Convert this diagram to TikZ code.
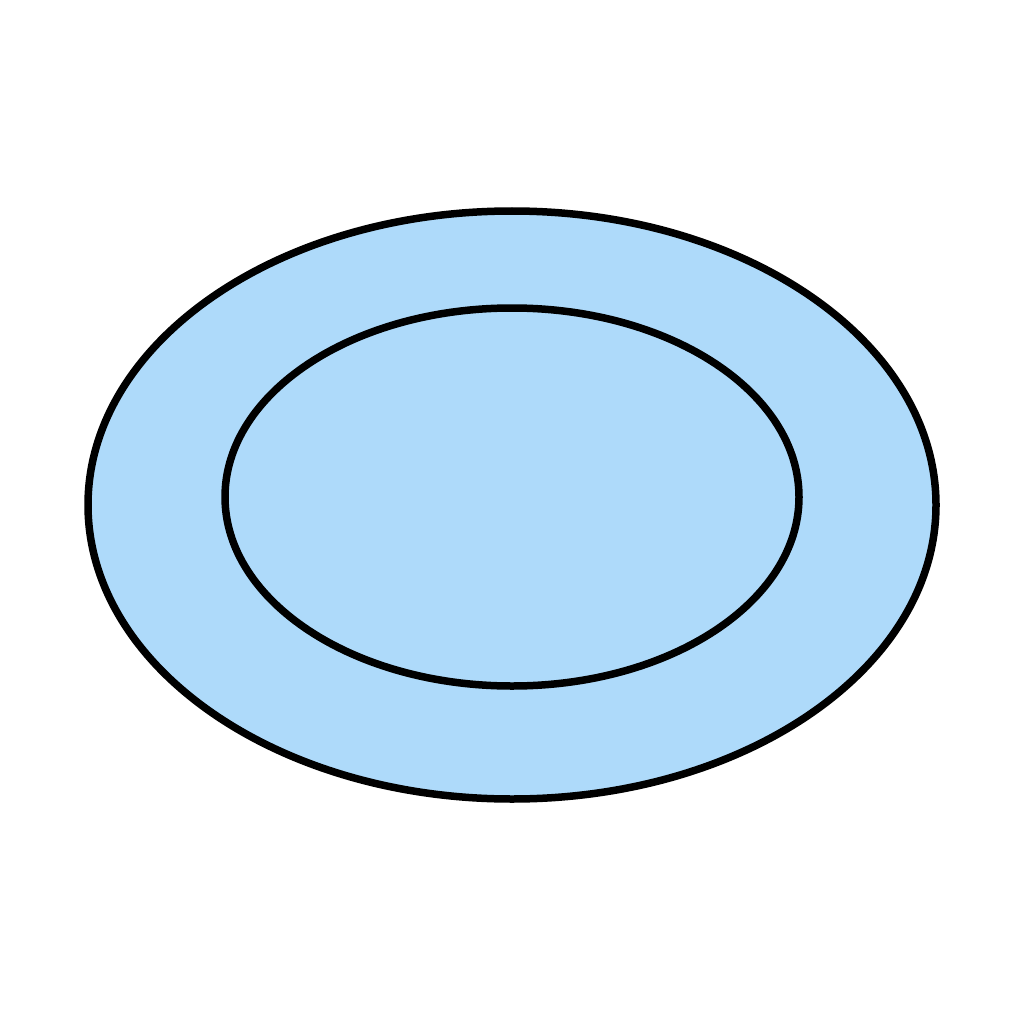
\documentclass[tikz,border=0pt]{standalone}
\begin{document}
\begin{tikzpicture}[x=1pt,y=-1pt,
  ring/.style={draw=black,line width=7.5pt,fill=plate},
  inner/.style={draw=black,line width=7.5pt}]
\definecolor{plate}{HTML}{AEDAFA}
\useasboundingbox (0,0) rectangle (1024,1024);
\fill[white] (0,0) rectangle (1024,1024);
\path[ring] (512,505) ellipse [x radius=424, y radius=294];
\path[inner] (512,497) ellipse [x radius=287, y radius=189];
\end{tikzpicture}
\end{document}
